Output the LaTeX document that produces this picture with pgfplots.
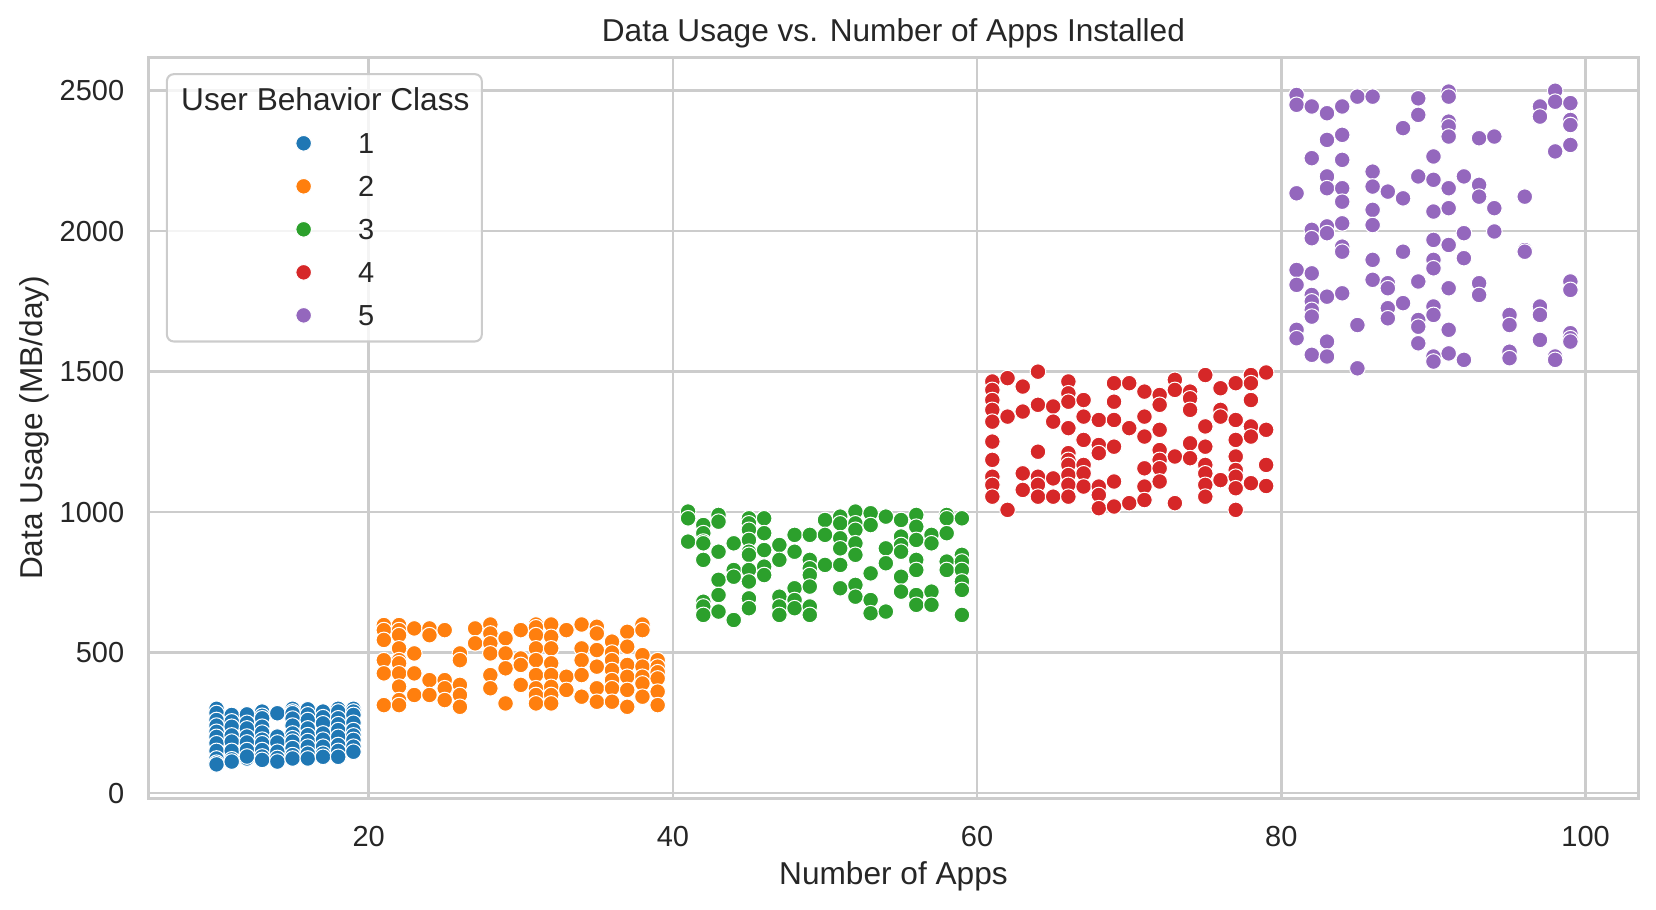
\documentclass[border=0pt]{standalone}
\usepackage{fontspec}
\setmainfont{Liberation Sans}
\usepackage{pgfplots}
\pgfplotsset{compat=1.18}

\definecolor{c1}{HTML}{1F77B4}
\definecolor{c2}{HTML}{FF7F0E}
\definecolor{c3}{HTML}{2CA02C}
\definecolor{c4}{HTML}{D62728}
\definecolor{c5}{HTML}{9467BD}
\definecolor{txt}{HTML}{262626}
\definecolor{gridc}{HTML}{CCCCCC}

\pgfplotsset{
  pt/.style={only marks, mark=*, mark size=3.4pt,
    mark options={fill=#1, draw=white, line width=0.45pt}},
}

\begin{document}
\begin{tikzpicture}
\useasboundingbox (-64.7pt,-48pt) rectangle (655.2pt,347.2pt);
\begin{axis}[
  scale only axis,
  width=647.4pt, height=322.4pt,
  xmin=5.55, xmax=103.45,
  ymin=-20, ymax=2620,
  xtick={20,40,60,80,100},
  ytick={0,500,1000,1500,2000,2500},
  major tick length=0pt,
  grid=major,
  major grid style={draw=gridc, line width=1.1pt},
  axis line style={draw=gridc, line width=1.3pt},
  /pgf/number format/assume math mode=true,
  /pgf/number format/1000 sep={},
  tick label style={font=\fontsize{12.6}{15}\selectfont, text=txt},
  xticklabel style={anchor=base, inner sep=0pt, yshift=-20.9pt},
  yticklabel style={anchor=east, inner sep=0pt, xshift=-10.5pt},
  xlabel={Number of Apps},
  ylabel={Data Usage (MB/day)},
  label style={font=\fontsize{13.75}{16}\selectfont, text=txt},
  xlabel style={at={(axis description cs:0.5,-0.1045)}, anchor=center},
  ylabel style={at={(axis description cs:-0.0770,0.5)}, anchor=center},
  title={Data Usage vs. Number of Apps Installed},
  title style={at={(axis description cs:0.5,1.0127)}, anchor=center, yshift=0pt,
    font=\fontsize{13.75}{16}\selectfont, text=txt},
  legend cell align=left,
  legend image code/.code={\path (0pt,0pt) (77.7pt,0pt);
    \draw[#1, opacity=1, every mark/.append style={draw=none}] plot coordinates {(54.5pt,0pt)};},
  legend style={at={(axis description cs:0,1)}, anchor=north west,
    xshift=7.4pt, yshift=-7pt,
    draw=gridc, line width=0.9pt, rounded corners=3pt,
    fill=white, fill opacity=0.8, text opacity=1,
    inner xsep=4.5pt, inner ysep=2pt, row sep=0pt, column sep=0pt,
    font=\fontsize{12.6}{15}\selectfont, text=txt,
    nodes={inner sep=0pt, text height=13.85pt, text depth=4.85pt}},
]
\addlegendimage{empty legend}
\addlegendentry{\hspace*{-77.7pt}\makebox[127pt][c]{\fontsize{13.75}{16}\selectfont User Behavior Class}}

\addplot[pt=c1] coordinates {
(10,300) (10,285) (10,260) (10,240) (10,218) (10,200) (10,177) (10,150) (10,123) (10,108) (10,102)
(11,278) (11,255) (11,236) (11,205) (11,183) (11,150) (11,120) (11,112)
(12,280) (12,250) (12,230) (12,201) (12,180) (12,153) (12,123) (12,130)
(13,290) (13,275) (13,266) (13,236) (13,215) (13,190) (13,177) (13,153) (13,130) (13,118)
(14,284) (14,201) (14,180) (14,147) (14,125) (14,112)
(15,300) (15,290) (15,284) (15,265) (15,240) (15,212) (15,195) (15,183) (15,160) (15,135) (15,123)
(16,298) (16,280) (16,260) (16,230) (16,206) (16,185) (16,165) (16,140) (16,123)
(17,290) (17,270) (17,248) (17,212) (17,190) (17,165) (17,140) (17,129)
(18,300) (18,290) (18,266) (18,245) (18,224) (18,200) (18,171) (18,150) (18,129)
(19,300) (19,290) (19,278) (19,250) (19,224) (19,205) (19,189) (19,165) (19,147)
};
\addlegendentry{1}

\addplot[pt=c2] coordinates {
(21,598) (21,580) (21,545) (21,473) (21,426) (21,313)
(22,598) (22,580) (22,562) (22,515) (22,473) (22,462) (22,426) (22,379) (22,331) (22,313)
(23,586) (23,497) (23,426) (23,349)
(24,586) (24,562) (24,402) (24,349)
(25,580) (25,402) (25,373) (25,331)
(26,497) (26,473) (26,385) (26,349) (26,307)
(27,586) (27,533)
(28,600) (28,568) (28,533) (28,497) (28,420) (28,373)
(29,551) (29,497) (29,444) (29,319)
(30,580) (30,479) (30,456) (30,385)
(31,600) (31,590) (31,562) (31,515) (31,473) (31,420) (31,373) (31,349) (31,319)
(32,600) (32,556) (32,515) (32,462) (32,420) (32,378) (32,349) (32,319)
(33,580) (33,414) (33,367)
(34,600) (34,515) (34,473) (34,420) (34,343)
(35,592) (35,568) (35,509) (35,450) (35,373) (35,325)
(36,539) (36,500) (36,473) (36,438) (36,402) (36,373) (36,325)
(37,574) (37,521) (37,456) (37,414) (37,367) (37,307)
(38,600) (38,580) (38,491) (38,450) (38,414) (38,390) (38,343)
(39,473) (39,450) (39,430) (39,408) (39,361) (39,313)
};
\addlegendentry{2}

\addplot[pt=c3] coordinates {
(41,1002) (41,978) (41,895)
(42,954) (42,925) (42,895) (42,889) (42,830) (42,681) (42,664) (42,634)
(43,990) (43,966) (43,859) (43,759) (43,705) (43,646)
(44,889) (44,794) (44,770) (44,616)
(45,978) (45,960) (45,937) (45,901) (45,859) (45,848) (45,794) (45,753) (45,693) (45,658)
(46,978) (46,925) (46,865) (46,806) (46,776)
(47,883) (47,830) (47,699) (47,664) (47,634)
(48,919) (48,859) (48,729) (48,687) (48,658)
(49,919) (49,830) (49,800) (49,776) (49,735) (49,664) (49,634)
(50,972) (50,919) (50,812)
(51,984) (51,960) (51,907) (51,871) (51,812) (51,729)
(52,1002) (52,960) (52,937) (52,889) (52,848) (52,741) (52,699)
(53,996) (53,954) (53,782) (53,687) (53,640)
(54,984) (54,871) (54,818) (54,646)
(55,972) (55,913) (55,883) (55,859) (55,770) (55,717)
(56,990) (56,948) (56,901) (56,830) (56,794) (56,705) (56,670)
(57,919) (57,889) (57,717) (57,670)
(58,990) (58,978) (58,925) (58,824) (58,794)
(59,978) (59,848) (59,824) (59,794) (59,753) (59,723) (59,634)
};
\addlegendentry{3}

\addplot[pt=c4] coordinates {
(61,1465) (61,1435) (61,1399) (61,1364) (61,1322) (61,1251) (61,1186) (61,1126) (61,1097) (61,1055)
(62,1477) (62,1340) (62,1008)
(63,1447) (63,1358) (63,1138) (63,1079)
(64,1500) (64,1382) (64,1215) (64,1126) (64,1097) (64,1055)
(65,1376) (65,1322) (65,1120) (65,1055)
(66,1465) (66,1423) (66,1393) (66,1299) (66,1210) (66,1186) (66,1168) (66,1132) (66,1097) (66,1055)
(67,1399) (67,1340) (67,1257) (67,1168) (67,1138) (67,1091)
(68,1328) (68,1239) (68,1210) (68,1091) (68,1061) (68,1014)
(69,1459) (69,1393) (69,1328) (69,1233) (69,1109) (69,1020)
(70,1459) (70,1299) (70,1032)
(71,1429) (71,1340) (71,1269) (71,1156) (71,1091) (71,1043)
(72,1417) (72,1382) (72,1293) (72,1221) (72,1186) (72,1156) (72,1109)
(73,1471) (73,1435) (73,1198) (73,1032)
(74,1429) (74,1405) (74,1364) (74,1245) (74,1192)
(75,1488) (75,1305) (75,1233) (75,1168) (75,1138) (75,1097) (75,1055)
(76,1441) (76,1364) (76,1340) (76,1114)
(77,1459) (77,1328) (77,1257) (77,1198) (77,1150) (77,1126) (77,1085) (77,1008)
(78,1488) (78,1459) (78,1399) (78,1305) (78,1269) (78,1103)
(79,1497) (79,1293) (79,1168) (79,1093)
};
\addlegendentry{4}

\addplot[pt=c5] coordinates {
(81,2485) (81,2450) (81,2135) (81,1862) (81,1809) (81,1649) (81,1619)
(82,2444) (82,2260) (82,2005) (82,1975) (82,1850) (82,1773) (82,1750) (82,1720) (82,1696) (82,1560)
(83,2420) (83,2325) (83,2195) (83,2153) (83,2017) (83,1993) (83,1767) (83,1607) (83,1554)
(84,2444) (84,2343) (84,2254) (84,2153) (84,2105) (84,2028) (84,1945) (84,1927) (84,1779)
(85,2479) (85,1666) (85,1512)
(86,2479) (86,2212) (86,2159) (86,2076) (86,2022) (86,1898) (86,1827)
(87,2141) (87,1815) (87,1797) (87,1726) (87,1690)
(88,2367) (88,2117) (88,1927) (88,1744)
(89,2473) (89,2414) (89,2195) (89,1821) (89,1684) (89,1660) (89,1601)
(90,2266) (90,2183) (90,2070) (90,1969) (90,1898) (90,1868) (90,1732) (90,1702) (90,1554) (90,1536)
(91,2497) (91,2479) (91,2390) (91,2373) (91,2337) (91,2153) (91,2082) (91,1951) (91,1797) (91,1649) (91,1565)
(92,2195) (92,1993) (92,1904) (92,1542)
(93,2331) (93,2165) (93,2123) (93,1815) (93,1773)
(94,2337) (94,2082) (94,1999)
(95,1702) (95,1666) (95,1571) (95,1548)
(96,2123) (96,1933) (96,1927)
(97,2444) (97,2408) (97,1732) (97,1702) (97,1613)
(98,2500) (98,2461) (98,2284) (98,1554) (98,1542)
(99,2456) (99,2396) (99,2378) (99,2307) (99,1821) (99,1791) (99,1637) (99,1619) (99,1607)
};
\addlegendentry{5}
\end{axis}
\end{tikzpicture}
\end{document}
